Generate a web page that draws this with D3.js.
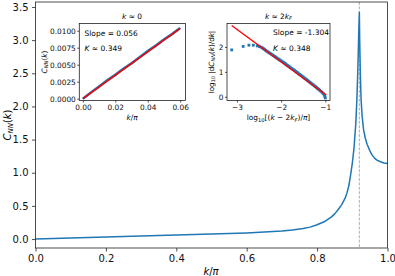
<!DOCTYPE html>
<html>
<head>
<meta charset="utf-8">
<script src="https://cdn.jsdelivr.net/npm/d3@7"></script>
<style>
body{margin:0;background:#fff}
svg{display:block;font-family:"DejaVu Sans",sans-serif}
</style>
</head>
<body>
<svg id="chart" width="395" height="276"></svg>
<script>
// main curve C_NN(k), k in units of pi
var kMain = [0, 0.05, 0.10, 0.15, 0.20, 0.25, 0.30, 0.35, 0.40, 0.45, 0.50, 0.55, 0.60, 0.65, 0.70, 0.73, 0.76, 0.78, 0.80, 0.82, 0.84, 0.85, 0.86, 0.87, 0.88, 0.885, 0.89, 0.895, 0.90, 0.905, 0.91, 0.913, 0.916, 0.918, 0.92, 0.921, 0.923, 0.925, 0.928, 0.932, 0.937, 0.942, 0.95, 0.956, 0.963, 0.97, 0.98, 0.99, 1.0];
var cMain = [0, 0.008, 0.016, 0.024, 0.032, 0.039, 0.046, 0.053, 0.060, 0.067, 0.075, 0.083, 0.093, 0.105, 0.122, 0.137, 0.158, 0.180, 0.215, 0.260, 0.330, 0.380, 0.445, 0.520, 0.620, 0.700, 0.800, 0.960, 1.140, 1.380, 1.750, 2.100, 2.600, 3.050, 3.420, 3.000, 2.450, 2.100, 1.850, 1.650, 1.520, 1.430, 1.330, 1.270, 1.220, 1.190, 1.165, 1.148, 1.140];
var twoKF = 0.92;
var mainXTicks = [0, 0.2, 0.4, 0.6, 0.8, 1.0];
var mainYTicks = [0, 0.5, 1.0, 1.5, 2.0, 2.5, 3.0, 3.5];

// inset near k = 0
var kSmall = [0, 0.005, 0.01, 0.015, 0.02, 0.025, 0.03, 0.035, 0.04, 0.045, 0.05, 0.055, 0.06];
var cSmall = [0, 0.0009, 0.0018, 0.0027, 0.0035, 0.0044, 0.0052, 0.0061, 0.0070, 0.0078, 0.0087, 0.0095, 0.0104];
var fitSmallX = [0, 0.06];
var fitSmallY = [0, 0.01035];
var smallXTicks = [0, 0.02, 0.04, 0.06];
var smallYTicks = [0, 0.0025, 0.005, 0.0075, 0.01];

// inset near k = 2kF (log-log)
var logDk = [-3.12, -2.86, -2.73, -2.63, -2.54, -2.49,
  -2.45, -2.425, -2.40, -2.375, -2.35, -2.325, -2.30, -2.275, -2.25, -2.225,
  -2.20, -2.175, -2.15, -2.125, -2.10, -2.075, -2.05, -2.025, -2.00, -1.975,
  -1.95, -1.925, -1.90, -1.875, -1.85, -1.825, -1.80, -1.775, -1.75, -1.725,
  -1.70, -1.675, -1.65, -1.625, -1.60, -1.575, -1.55, -1.525, -1.50, -1.475,
  -1.45, -1.425, -1.40, -1.375, -1.35, -1.325, -1.30, -1.275, -1.25, -1.225,
  -1.20, -1.175, -1.15, -1.125, -1.10, -1.075, -1.05, -1.025, -1.01, -1.0];
var logDc = [1.88, 2.02, 2.07, 2.07, 2.04, 2.01,
  1.99, 1.96, 1.93, 1.90, 1.86, 1.83, 1.80, 1.77, 1.74, 1.71,
  1.68, 1.65, 1.62, 1.59, 1.56, 1.53, 1.50, 1.47, 1.44, 1.41,
  1.38, 1.35, 1.32, 1.28, 1.25, 1.22, 1.19, 1.15, 1.12, 1.09,
  1.06, 1.02, 0.99, 0.96, 0.92, 0.89, 0.86, 0.82, 0.79, 0.75,
  0.72, 0.69, 0.65, 0.62, 0.58, 0.55, 0.51, 0.48, 0.44, 0.41,
  0.37, 0.33, 0.30, 0.26, 0.22, 0.18, 0.13, 0.07, 0.01, -0.05];
var fitLogX = [-3.12, -0.98];
var fitLogY = [2.86, 0.07];
var logXTicks = [-3, -2, -1];
var logYTicks = [0, 1, 2];

var blue = "#1f77b4";
var svg = d3.select("#chart");

// little helper for mathtext-like labels
function mathText(txt, parts, size) {
  var shift = 0;
  parts.forEach(function(p) {
    var ts = txt.append("tspan").text(p.t);
    if (p.i) ts.attr("font-style", "italic");
    var want = p.sub ? size * 0.22 : 0;
    if (want != shift) { ts.attr("dy", want - shift); shift = want; }
    if (p.sub) ts.attr("font-size", size * 0.7);
  });
}

function styleAxis(g, size) {
  g.select(".domain").remove();
  g.selectAll("line").attr("stroke", "#222").attr("stroke-width", 0.8);
  g.selectAll("text").attr("font-size", size).attr("fill", "#111").attr("font-family", "DejaVu Sans");
}

function fmtMinus(d) { return (d < 0 ? "\u2212" : "") + Math.abs(d); }

// ---------- main axes ----------
var x = d3.scaleLinear().domain([0, 1]).range([35.5, 387.5]);
var y = d3.scaleLinear().domain([-0.135, 3.575]).range([248, 2]);

svg.append("g").attr("transform", "translate(0,248)")
  .call(d3.axisBottom(x).tickValues(mainXTicks).tickFormat(d3.format(".1f")).tickSize(3.5).tickPadding(3.5))
  .call(styleAxis, 10);
svg.append("g").attr("transform", "translate(35.5,0)")
  .call(d3.axisLeft(y).tickValues(mainYTicks).tickFormat(d3.format(".1f")).tickSize(3.5).tickPadding(3.5))
  .call(styleAxis, 10);

svg.append("line")
  .attr("x1", x(twoKF)).attr("x2", x(twoKF)).attr("y1", 2).attr("y2", 248)
  .attr("stroke", "#999").attr("stroke-width", 0.8).attr("stroke-dasharray", "3,1.4");

var mainPts = kMain.map(function(k, i) { return [k, cMain[i]]; });
svg.append("path").datum(mainPts)
  .attr("fill", "none").attr("stroke", blue).attr("stroke-width", 1.5).attr("stroke-linejoin", "round")
  .attr("d", d3.line().x(function(d) { return x(d[0]); }).y(function(d) { return y(d[1]); }));

svg.append("rect").attr("x", 35.5).attr("y", 2).attr("width", 352).attr("height", 246)
  .attr("fill", "none").attr("stroke", "#222").attr("stroke-width", 0.8);

var xl = svg.append("text").attr("x", 211).attr("y", 275).attr("text-anchor", "middle").attr("font-size", 10);
mathText(xl, [{t: "k", i: true}, {t: "/"}, {t: "\u03c0", i: true}], 10);
var yl = svg.append("text").attr("transform", "translate(11,125) rotate(-90)").attr("text-anchor", "middle").attr("font-size", 10);
mathText(yl, [{t: "C", i: true}, {t: "NN", i: true, sub: true}, {t: "("}, {t: "k", i: true}, {t: ")"}], 10);

// ---------- inset 1: k ~ 0 ----------
var ax1 = svg.append("g");
ax1.append("rect").attr("x", 79.3).attr("y", 23.5).attr("width", 106.2).attr("height", 77).attr("fill", "#fff");
var x1 = d3.scaleLinear().domain([-0.0022, 0.0633]).range([79.3, 185.5]);
var y1 = d3.scaleLinear().domain([-0.00027, 0.01106]).range([100.5, 23.5]);
ax1.append("g").attr("transform", "translate(0,100.5)")
  .call(d3.axisBottom(x1).tickValues(smallXTicks).tickFormat(d3.format(".2f")).tickSize(2).tickPadding(2))
  .call(styleAxis, 7.4);
ax1.append("g").attr("transform", "translate(79.3,0)")
  .call(d3.axisLeft(y1).tickValues(smallYTicks).tickFormat(d3.format(".4f")).tickSize(2).tickPadding(1.5))
  .call(styleAxis, 7.4);
var smallPts = kSmall.map(function(k, i) { return [k, cSmall[i]]; });
ax1.append("path").datum(smallPts)
  .attr("fill", "none").attr("stroke", blue).attr("stroke-width", 2.6)
  .attr("d", d3.line().x(function(d) { return x1(d[0]); }).y(function(d) { return y1(d[1]); }));
ax1.append("line")
  .attr("x1", x1(fitSmallX[0])).attr("y1", y1(fitSmallY[0]))
  .attr("x2", x1(fitSmallX[1])).attr("y2", y1(fitSmallY[1]))
  .attr("stroke", "red").attr("stroke-width", 1.4);
ax1.append("rect").attr("x", 79.3).attr("y", 23.5).attr("width", 106.2).attr("height", 77)
  .attr("fill", "none").attr("stroke", "#222").attr("stroke-width", 0.8);
ax1.append("text").attr("x", 84.5).attr("y", 35.5).attr("font-size", 7.5).text("Slope = 0.056");
var kt1 = ax1.append("text").attr("x", 84.5).attr("y", 50.5).attr("font-size", 7.5);
mathText(kt1, [{t: "K", i: true}, {t: " \u2248 0.349"}], 7.5);
var t1 = ax1.append("text").attr("x", 132).attr("y", 18.5).attr("text-anchor", "middle").attr("font-size", 7.4);
mathText(t1, [{t: "k", i: true}, {t: " \u2248 0"}], 7.4);
var xl1 = ax1.append("text").attr("x", 132).attr("y", 120).attr("text-anchor", "middle").attr("font-size", 7.4);
mathText(xl1, [{t: "k", i: true}, {t: "/"}, {t: "\u03c0", i: true}], 7.4);
var yl1 = ax1.append("text").attr("transform", "translate(46.5,62) rotate(-90)").attr("text-anchor", "middle").attr("font-size", 7.4);
mathText(yl1, [{t: "C", i: true}, {t: "NN", i: true, sub: true}, {t: "("}, {t: "k", i: true}, {t: ")"}], 7.4);

// ---------- inset 2: k ~ 2kF ----------
var ax2 = svg.append("g");
ax2.append("rect").attr("x", 227).attr("y", 23.5).attr("width", 103).attr("height", 77).attr("fill", "#fff");
var x2 = d3.scaleLinear().domain([-3.226, -0.894]).range([227, 330]);
var y2 = d3.scaleLinear().domain([-0.15, 2.94]).range([100.5, 23.5]);
ax2.append("g").attr("transform", "translate(0,100.5)")
  .call(d3.axisBottom(x2).tickValues(logXTicks).tickFormat(fmtMinus).tickSize(2).tickPadding(2))
  .call(styleAxis, 7.4);
ax2.append("g").attr("transform", "translate(227,0)")
  .call(d3.axisLeft(y2).tickValues(logYTicks).tickFormat(fmtMinus).tickSize(2).tickPadding(1.5))
  .call(styleAxis, 7.4);
ax2.selectAll("rect.pt").data(logDk).enter().append("rect").attr("class", "pt")
  .attr("x", function(d) { return x2(d) - 1.4; })
  .attr("y", function(d, i) { return y2(logDc[i]) - 1.4; })
  .attr("width", 2.8).attr("height", 2.8).attr("fill", blue);
ax2.append("line")
  .attr("x1", x2(fitLogX[0])).attr("y1", y2(fitLogY[0]))
  .attr("x2", x2(fitLogX[1])).attr("y2", y2(fitLogY[1]))
  .attr("stroke", "red").attr("stroke-width", 1.4);
ax2.append("rect").attr("x", 227).attr("y", 23.5).attr("width", 103).attr("height", 77)
  .attr("fill", "none").attr("stroke", "#222").attr("stroke-width", 0.8);
ax2.append("text").attr("x", 273).attr("y", 35).attr("font-size", 7.5).text("Slope = -1.304");
var kt2 = ax2.append("text").attr("x", 273).attr("y", 50.5).attr("font-size", 7.5);
mathText(kt2, [{t: "K", i: true}, {t: " \u2248 0.348"}], 7.5);
var t2 = ax2.append("text").attr("x", 278.5).attr("y", 18.5).attr("text-anchor", "middle").attr("font-size", 7.4);
mathText(t2, [{t: "k", i: true}, {t: " \u2248 2"}, {t: "k", i: true}, {t: "F", i: true, sub: true}], 7.4);
var xl2 = ax2.append("text").attr("x", 278.5).attr("y", 120).attr("text-anchor", "middle").attr("font-size", 7.4);
mathText(xl2, [{t: "log"}, {t: "10", sub: true}, {t: "[("}, {t: "k", i: true}, {t: " \u2212 2"}, {t: "k", i: true}, {t: "F", i: true, sub: true}, {t: ")/"}, {t: "\u03c0", i: true}, {t: "]"}], 7.4);
var yl2 = ax2.append("text").attr("transform", "translate(213.5,62) rotate(-90)").attr("text-anchor", "middle").attr("font-size", 7.2);
mathText(yl2, [{t: "log"}, {t: "10", sub: true}, {t: " |d"}, {t: "C", i: true}, {t: "NN", i: true, sub: true}, {t: "("}, {t: "k", i: true}, {t: ")/d"}, {t: "k", i: true}, {t: "|"}], 7.2);
</script>
</body>
</html>
